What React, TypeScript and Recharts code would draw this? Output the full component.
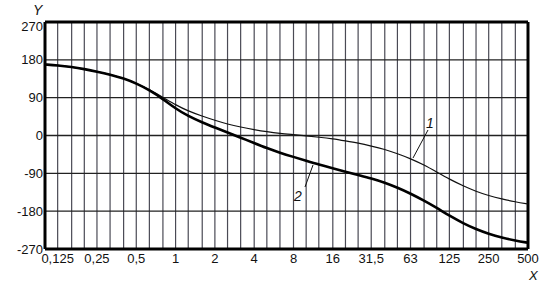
import React from "react";
import {
  LineChart,
  Line,
  XAxis,
  YAxis,
  CartesianGrid,
  ReferenceLine,
} from "recharts";

// 1/3-octave grid frequencies
const gridFreqs = [
  0.1, 0.125, 0.16, 0.2, 0.25, 0.315, 0.4, 0.5, 0.63, 0.8, 1, 1.25, 1.6, 2, 2.5,
  3.15, 4, 5, 6.3, 8, 10, 12.5, 16, 20, 25, 31.5, 40, 50, 63, 80, 100, 125, 160,
  200, 250, 315, 400, 500,
];
const labelFreqs = [0.125, 0.25, 0.5, 1, 2, 4, 8, 16, 31.5, 63, 125, 250, 500];
const yTicks = [-270, -180, -90, 0, 90, 180, 270];

// curve 1 (thin) and curve 2 (thick), read at the grid frequencies
const curve1 = [
  169, 167, 163, 158, 152, 145, 136, 124, 109, 91, 73, 58, 46, 36, 27, 20, 14,
  9, 5, 2, -1, -4, -8, -13, -18, -25, -33, -43, -55, -70, -87, -104, -120, -133,
  -143, -151, -158, -163,
];
const curve2 = [
  169, 167, 163, 158, 152, 145, 136, 124, 108, 87, 64, 46, 31, 19, 7, -5, -18,
  -30, -41, -51, -60, -69, -78, -86, -94, -102, -112, -124, -138, -155, -172,
  -191, -209, -223, -234, -243, -250, -255,
];

const data = gridFreqs.map((f, i) => ({ f, c1: curve1[i], c2: curve2[i] }));

const font = "'Liberation Sans', Arial, sans-serif";

const fmt = (v: number) =>
  labelFreqs.includes(v) ? String(v).replace(".", ",") : "";

const YTick = (props: any) => {
  const { x, y, payload } = props;
  const dy = payload.value === 270 ? 9 : 4.5;
  return (
    <text x={x} y={y + dy} textAnchor="end" fontSize={13} fontFamily={font} fill="#111">
      {payload.value}
    </text>
  );
};

const XTick = (props: any) => {
  const { x, y, payload } = props;
  const label = fmt(payload.value);
  if (!label) return null;
  return (
    <text x={x} y={y + 12} textAnchor="middle" fontSize={13} fontFamily={font} fill="#111">
      {label}
    </text>
  );
};

export default function App() {
  return (
    <div style={{ position: "absolute", left: 0, top: 0, width: 545, height: 286, background: "#fff" }}>
      <LineChart
        width={545}
        height={286}
        data={data}
        margin={{ top: 22, right: 17, bottom: 0, left: 0 }}
      >
        <CartesianGrid horizontal={false} stroke="#4a4a55" strokeWidth={1.2} />
        <CartesianGrid vertical={false} stroke="#222" strokeWidth={1.3} />
        <XAxis
          dataKey="f"
          type="number"
          scale="log"
          domain={[0.1, 500]}
          ticks={gridFreqs}
          interval={0}
          allowDataOverflow
          height={37}
          tickLine={false}
          tickSize={0}
          axisLine={{ stroke: "#000", strokeWidth: 3 }}
          tick={<XTick />}
        />
        <YAxis
          type="number"
          domain={[-270, 270]}
          ticks={yTicks}
          interval={0}
          width={45}
          tickLine={false}
          tickSize={0}
          tickMargin={2}
          axisLine={{ stroke: "#000", strokeWidth: 3 }}
          tick={<YTick />}
        />
        <ReferenceLine y={270} stroke="#000" strokeWidth={3} />
        <ReferenceLine x={500} stroke="#000" strokeWidth={3} />
        <Line
          dataKey="c1"
          type="basis"
          stroke="#111"
          strokeWidth={1.2}
          dot={false}
          isAnimationActive={false}
        />
        <Line
          dataKey="c2"
          type="basis"
          stroke="#000"
          strokeWidth={2.6}
          dot={false}
          isAnimationActive={false}
        />
        <text x={33} y={15} fontSize={14} fontStyle="italic" fontFamily={font} fill="#111">Y</text>
        <text x={529} y={280} fontSize={13} fontStyle="italic" fontFamily={font} fill="#111">X</text>
        <line x1={428} y1={130} x2={413} y2={158} stroke="#111" strokeWidth={1} />
        <text x={426} y={128} fontSize={14} fontStyle="italic" fontFamily={font} fill="#111">1</text>
        <line x1={313} y1={165} x2={305} y2={187} stroke="#111" strokeWidth={1} />
        <text x={294} y={201} fontSize={14} fontStyle="italic" fontFamily={font} fill="#111">2</text>
      </LineChart>
    </div>
  );
}
